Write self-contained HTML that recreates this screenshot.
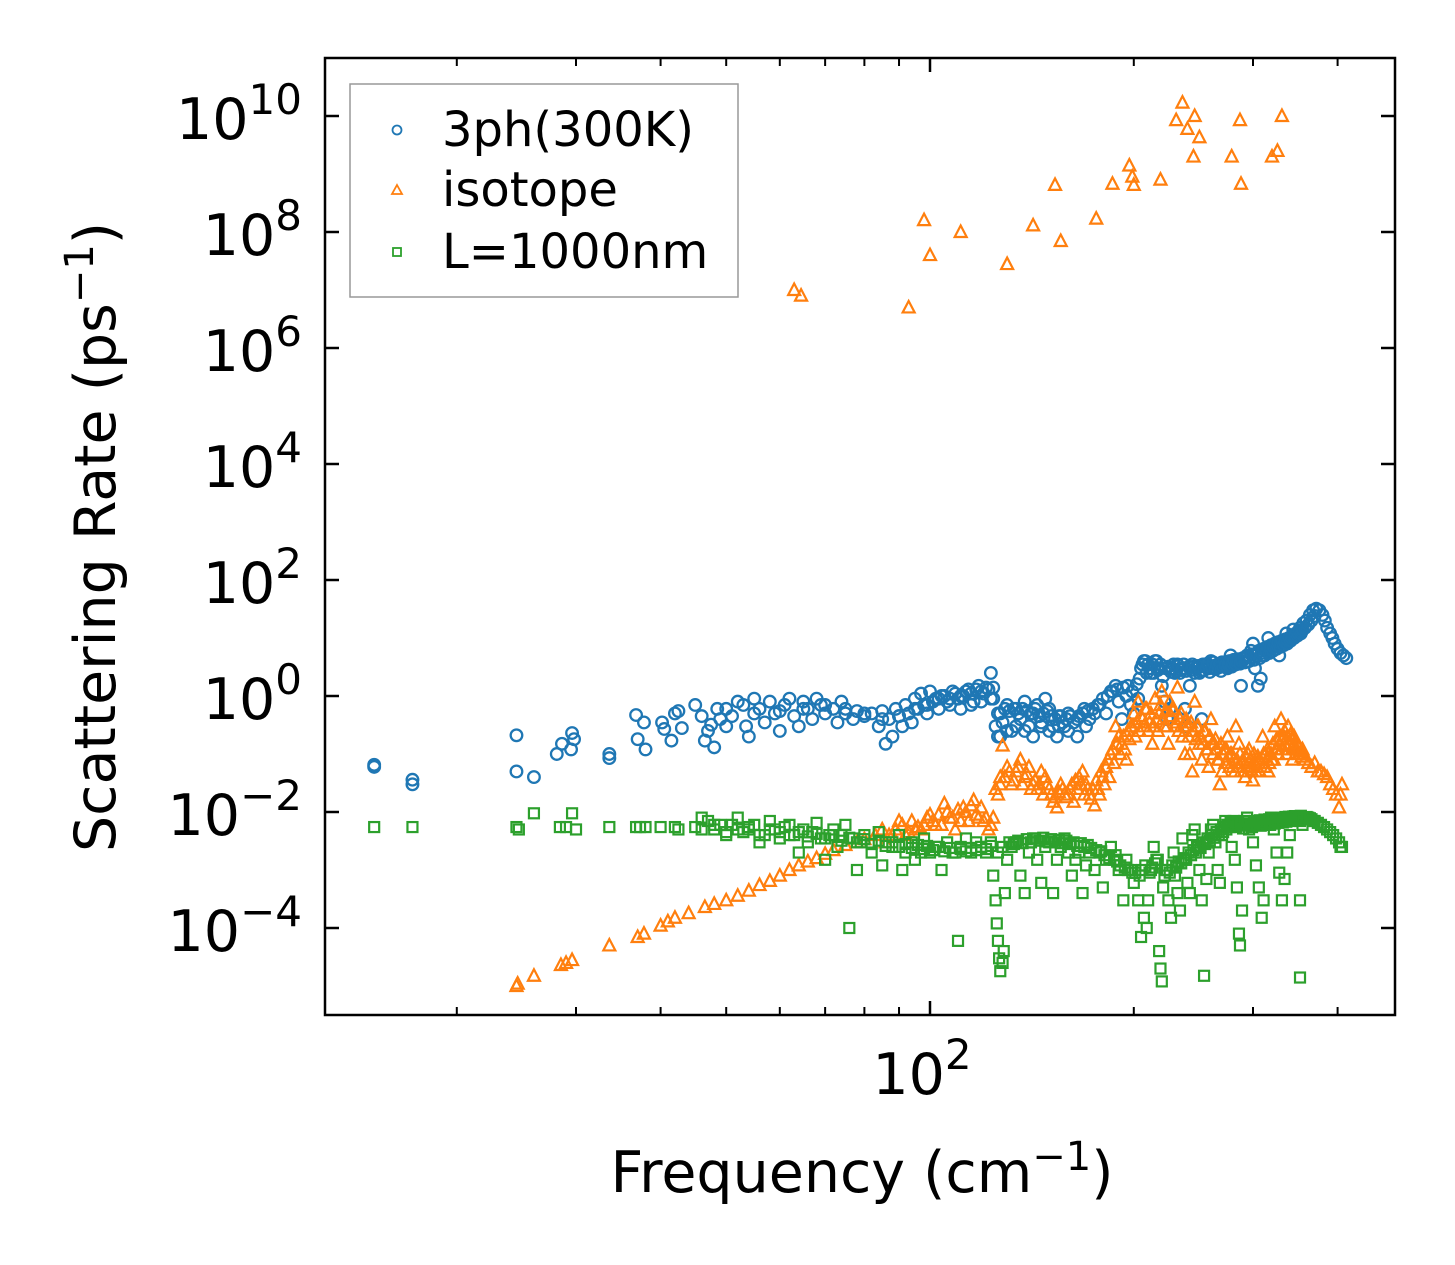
<!DOCTYPE html>
<html><head><meta charset="utf-8"><style>
html,body{margin:0;padding:0;background:#fff}
svg{display:block}
text{font-family:"DejaVu Sans","Liberation Sans",sans-serif;fill:#000}
</style></head><body>
<svg id="chart" width="1455" height="1265" viewBox="0 0 1455 1265" xmlns="http://www.w3.org/2000/svg">
<g id="marks"></g>
<g id="axes"></g>
<rect x="325" y="58" width="1070" height="957" fill="none" stroke="#000" stroke-width="2.5"/>
<text transform="translate(115,537) rotate(-90)" text-anchor="middle" font-size="57">Scattering Rate (ps<tspan font-size="40" dy="-22">−1</tspan><tspan dy="22">)</tspan></text>
<text x="862" y="1192" text-anchor="middle" font-size="57">Frequency (cm<tspan font-size="40" dy="-22">−1</tspan><tspan dy="22">)</tspan></text>
<g>
<rect x="350" y="84" width="388" height="213" fill="#fff" stroke="#999" stroke-width="1.5"/>
<circle cx="397" cy="130" r="4.5" fill="none" stroke="#1f77b4" stroke-width="1.8"/>
<text x="442" y="146" font-size="48">3ph(300K)</text>
<polygon points="397,185 402,194 392,194" fill="none" stroke="#ff7f0e" stroke-width="1.8"/>
<text x="442" y="206" font-size="48">isotope</text>
<rect x="393" y="248" width="8" height="8" fill="none" stroke="#2ca02c" stroke-width="1.8"/>
<text x="442" y="268" font-size="48">L=1000nm</text>
</g>
</svg>
<script>
const threephFreq=[15.1,15.1,17.2,17.2,24.5,24.5,26,28.1,28.6,29.6,29.8,29.5,33.6,33.6,36.8,37,37.8,38,40.2,40.5,42,42.5,41.5,43,45,46,46.5,47,47.5,48,48.5,49,50,51,52,53,53.5,54,55,56,57,58,59,60,61,62,63,64,65,66,67,68,69,70,72,73,74,75,77,78,80,82,84,85,86,87,88,89,90,91,92,93,94,95,96,97,98,100,102,104,106,108,110,112,114,116,118,120,122,123,124,124,125,126,127,128,130,132,134,136,138,140,142,144,146,148,150,152,154,156,158,160,163,166,169,172,175,178,180,182,185,188,190,192,195,198,200,203,205,208,210,212,215,218,220,222,224,226,228,230,232,235,238,240,242,245,248,250,252,255,258,260,263,266,270,274,278,282,286,288,290,294,298,300,302,305,308,310,313,316,320,324,328,332,336,340,344,348,352,356,360,364,368,372,376,380,383,386,390,393,396,400,404,408,412,
50,55,60,65,70,75,80,85,90,95,99,101,103,105,107,109,111,113,115,117,119,121,99,103,107,111,115,119,123,126,129,131,133,135,137,139,141,143,145,147,149,151,153,155,157,159,161,165,168,171,174,177,127,130,134,138,142,146,150,155,160,165,170,183,186,189,193,196,199,202,204,206,207,209,211,213,214,216,217,219,221,223,225,227,229,231,233,234,236,237,239,241,243,244,246,247,249,251,253,254,256,257,259,261,262,264,265,267,268,269,271,272,273,275,276,277,279,280,281,283,284,285,287,289,291,292,293,295,296,297,299,301,303,304,306,307,309,311,312,314,315,317,318,319,321,322,323,325,326,327,329,330,331,333,334,335,337,338,339,341,342,343,345,346,347,349,350,351,353,354,355,358,362,366,370];
const threephRate=[.065,.06,.036,.03,.21,.05,.04,.1,.15,.23,.18,.12,.1,.085,.47,.18,.35,.12,.35,.27,.5,.55,.17,.28,.7,.45,.17,.25,.32,.13,.6,.4,.3,.45,.8,.7,.3,.2,.9,.6,.35,.8,.5,.25,.7,.9,.45,.3,.8,.6,.4,.9,.7,.5,.6,.35,.8,.5,.4,.55,.45,.5,.3,.55,.15,.4,.2,.6,.45,.3,.7,.5,.35,.9,.6,1.1,.7,1.2,.9,1.0,.8,1.2,.9,1.0,1.3,.8,1.5,1.1,1.3,2.5,1.4,.9,.3,.2,.5,.35,.7,.25,.6,.4,.8,.3,.5,.7,.35,.9,.6,.3,.2,.45,.3,.5,.35,.45,.6,.4,.5,.7,.9,.5,1.2,1.5,.8,.4,1.0,.7,.5,.9,3,4,3.5,2.5,4,3,1.5,.8,.4,.6,3,2.5,3.5,2.8,.6,.3,1.5,3.2,3,2.5,.4,3.5,3,4,3,3.5,3.8,3.2,5,3.5,4,1.5,4.5,5,6,8,3,1.5,2,5,6,10,7,8,5,9,12,10,14,12,15,18,20,25,30,32,30,25,20,15,12,10,8,6.5,5.5,5,4.5,
.6,.5,.55,.6,.7,.6,.5,.4,.45,.6,.7,.8,.9,1.0,.9,1.1,1.0,1.2,1.1,1.3,1.2,1.4,.5,.6,.7,.6,.7,.8,.9,.5,.6,.55,.6,.5,.6,.55,.5,.6,.45,.5,.55,.45,.4,.45,.35,.4,.45,.4,.5,.55,.6,.7,.2,.25,.3,.25,.2,.3,.25,.3,.25,.2,.3,1.0,1.2,1.3,1.4,1.5,1.2,1.6,2,3.5,4,2.5,3,3.5,2.5,4,2.8,3.5,2.2,3,3.2,2.6,3.5,2.7,3.3,2.5,3,3.5,2.7,3.2,2.8,3.5,2.5,3,3.3,2.7,3.5,2.8,3.1,3.6,2.6,3.2,3.8,2.9,3.4,3.1,3.6,2.7,3.2,3.8,3.4,3,3.5,4,3.2,3.7,4.2,3.5,3.9,4.3,3.6,4,4.4,3.8,4.5,5,4,4.6,5.2,4.2,5,5.5,6,4.5,5.5,6.5,5,6,7,5.5,6.5,7.5,6,7,8,6.5,7.5,8.5,7,8,9,7.5,8.5,9.5,8,9,10,9,10,11,10,11,12,11,12,13,12,13,14,15,17,20,24];
const isoFreq=[24.5,24.6,26,28.5,29,29.6,33.6,37,37.8,40,41,42,44,46.5,48,50,52,54,56,58,60,62,64,66,68,70,72,75,78,80,83,85,86,88,90,92,95,97,100,102,105,107,109,112,114,116,118,120,122,124,125,127,128,130,132,134,136,138,140,142,144,146,148,150,152,154,156,158,160,163,166,168,170,172,175,178,180,183,186,188,190,192,195,198,200,203,206,208,210,213,215,218,220,222,225,228,230,232,234,236,238,240,242,244,246,248,250,252,254,256,258,260,263,266,268,270,272,275,278,280,283,286,288,290,292,295,298,300,303,306,310,313,316,320,323,326,330,333,336,340,343,346,350,354,358,362,366,370,374,378,382,386,390,394,398,402,404,406,
63,64.5,93,98,100,111,130,142,153,156,176,186,197,199,219,200,231,236,240,246,250,245,279,287,288,320,326,331,
87,89,91,93,94,96,98,99,101,103,104,106,108,110,111,113,115,117,119,121,123,126,127,129,131,133,135,137,139,141,143,145,147,149,151,153,155,157,159,161,162,164,165,167,169,171,173,174,176,177,179,181,182,184,185,187,189,191,193,194,196,197,199,201,202,204,205,207,209,211,212,214,216,217,219,221,223,224,226,227,229,231,233,235,237,239,241,243,245,247,249,251,253,255,257,259,261,262,264,265,267,269,271,273,274,276,277,279,281,282,284,285,287,289,291,293,294,296,297,299,301,302,304,305,307,309,311,312,314,315,317,319,321,322,324,325,327,328,329,331,332,334,335,337,338,339,341,342,344,345,347,348,349,351,353,355,357];
const isoRate=[1e-5,1.1e-5,1.5e-5,2.3e-5,2.5e-5,2.8e-5,5e-5,7e-5,8e-5,1.1e-4,1.3e-4,1.5e-4,1.8e-4,2.3e-4,2.6e-4,3e-4,3.6e-4,4.4e-4,5.5e-4,6.5e-4,8e-4,1e-3,1.2e-3,1.4e-3,1.6e-3,1.9e-3,2.2e-3,2.7e-3,3e-3,3.4e-3,4e-3,5e-3,3e-3,4e-3,7e-3,4e-3,5e-3,5e-3,9e-3,6e-3,1.4e-2,8e-3,5e-3,1.2e-2,7e-3,1.6e-2,8e-3,7e-3,5e-3,8e-3,2.5e-2,4e-2,.14,6e-2,3e-2,5e-2,8e-2,4e-2,6e-2,3e-2,2.5e-2,5e-2,4e-2,2.5e-2,1.5e-2,1.2e-2,3e-2,2e-2,2e-2,1.5e-2,4e-2,5e-2,3e-2,2e-2,1.3e-2,2e-2,4e-2,8e-2,.12,.3,.2,.15,.08,.3,.5,.8,.4,.6,.25,.15,.9,.5,1.2,.3,.15,.6,.3,1.4,.4,.2,.1,.3,.1,.05,.8,.3,.15,.08,.25,.12,.06,.4,.15,.08,.03,.05,.12,.2,.1,.06,.3,.15,.05,.08,.04,.1,.06,.035,.05,.08,.2,.1,.05,.08,.3,.12,.4,.2,.1,.15,.08,.12,.1,.09,.08,.07,.06,.07,.05,.05,.045,.04,.03,.025,.02,.012,.02,.03,
1e7,8e6,5e6,1.6e8,4e7,1e8,2.8e7,1.3e8,6.5e8,7e7,1.7e8,6.8e8,1.4e9,9e8,8e8,6.5e8,8.5e9,1.7e10,6e9,1e10,4.3e9,2e9,2e9,8.5e9,6.8e8,2e9,2.5e9,1e10,
4e-3,5e-3,6e-3,4.5e-3,7e-3,5.5e-3,6e-3,8e-3,7e-3,9e-3,6e-3,1e-2,8e-3,1.1e-2,7e-3,1e-2,1.3e-2,9e-3,1.2e-2,8e-3,6e-3,2e-2,3e-2,4e-2,5e-2,3.5e-2,6e-2,3e-2,4.5e-2,2.5e-2,3.5e-2,3e-2,2e-2,3e-2,2e-2,1.8e-2,2.2e-2,2.5e-2,1.8e-2,2.5e-2,3e-2,3.5e-2,2.5e-2,3e-2,2e-2,2.5e-2,1.7e-2,2.5e-2,3.5e-2,2.5e-2,5e-2,3e-2,6e-2,4e-2,1e-1,7e-2,.15,.1,.2,.12,.25,.18,.3,.2,.35,.25,.45,.3,.6,.35,.5,.3,.4,.25,.7,.4,.55,.3,.8,.45,.6,.35,.25,.5,.3,.4,.2,.35,.25,.18,.3,.2,.15,.25,.12,.2,.15,.1,.18,.12,.08,.15,.1,.07,.12,.09,.06,.1,.08,.05,.08,.06,.1,.07,.05,.09,.06,.12,.08,.05,.1,.07,.06,.09,.05,.07,.1,.06,.08,.12,.07,.1,.15,.08,.12,.18,.1,.15,.2,.12,.18,.25,.14,.2,.3,.15,.22,.18,.14,.2,.16,.12,.15,.13,.11,.12,.1,.1,.09];
const bndFreq=[15.1,17.2,24.5,24.7,26,28.4,29,29.6,30,33.6,36.8,37.3,38,40,42,42.5,45,46,47,48,49,50,51,52,53,54,55,56,57,58,59,60,61,62,63,64,65,66,67,68,69,70,71,72,73,74,75,76,77,78,79,80,82,84,85,86,88,90,91,92,94,95,97,98,100,102,104,106,108,110,111,113,115,117,119,121,123,124,125,125.5,126,126.5,127,128,128.5,129,130,132,134,136,138,140,142,144,146,148,150,152,154,156,158,160,162,164,166,168,170,172,175,178,180,182,185,188,190,193,195,198,200,203,205,207,209,210,212,214,216,218,219,220,221,223,225,227,229,230,232,234,236,238,240,242,244,246,248,250,252,254,256,258,260,262,264,266,268,270,273,276,279,282,284,286,287,289,291,294,297,300,303,306,309,311,313,316,319,322,325,328,331,334,337,340,343,346,349,352,352,352,355,358,362,366,370,374,378,382,386,390,394,398,402,404,406,
46,48,50,52,54,56,58,60,62,64,66,68,70,72,74,76,78,80,82,84,86,88,90,92,94,96,98,99,101,103,105,107,109,111,113,115,117,119,121,123,126,128,131,133,135,137,139,141,143,145,147,149,151,153,155,157,159,161,163,165,167,169,171,173,176,179,181,184,187,189,191,194,196,199,201,204,206,208,211,213,215,217,222,224,226,228,231,233,235,237,239,241,243,245,247,249,251,253,255,257,259,261,263,265,267,269,271,272,274,275,277,278,280,281,283,285,288,290,292,293,295,296,298,299,301,302,304,305,307,308,310,312,314,315,317,318,320,321,323,324,326,327,329,330,332,333,335,336,338,339,341,342,344,345,347,348,350,351,353,356,360,364,368];
const bndRate=[.0055,.0055,.0055,.005,.0095,.0055,.0055,.0095,.005,.0055,.0055,.0055,.0055,.0055,.0055,.005,.0055,.008,.007,.005,.006,.004,.006,.008,.0045,.005,.006,.003,.004,.007,.005,.0035,.0055,.006,.004,.002,.005,.003,.0045,.0065,.0035,.0015,.004,.005,.0025,.004,.006,1e-4,.0035,.001,.003,.004,.002,.0045,.0012,.003,.0025,.004,.001,.002,.003,.0015,.002,.0035,.002,.0025,.001,.003,.002,6e-5,.0025,.0035,.002,.003,.0025,.002,.003,.0008,.0003,1.2e-4,6e-5,3e-5,1.8e-5,2.5e-5,4e-5,.0004,.0015,.0025,.003,.0008,.0004,.002,.0035,.0015,.0006,.0025,.003,.0004,.0015,.0025,.0035,.002,.0008,.0015,.002,.0004,.0012,.002,.001,.002,.0005,.0015,.0025,.0018,.001,.0003,.0015,.001,.0006,.0003,7e-5,1.5e-4,1e-4,.0003,.001,.0025,.0015,4e-5,2e-5,1.2e-5,.0005,.001,.0003,1.5e-4,.002,.0008,.0004,2e-4,.0035,.0015,.0006,.0004,.004,.005,.0025,.001,.0003,1.5e-5,.0007,.002,.005,.006,.003,.001,.0006,.004,.007,.006,.0025,.0015,.0005,8e-5,5e-5,.0002,.007,.008,.006,.003,.0012,.0005,1.5e-4,.0003,.006,.007,.008,.005,.002,.0009,.0003,.0007,.002,.004,.008,.0085,.008,.007,1.4e-5,.0003,.006,.0075,.008,.0075,.007,.0065,.006,.0055,.005,.0045,.004,.0035,.003,.0025,.0025,
.005,.006,.0045,.005,.0055,.004,.005,.0045,.004,.0045,.0038,.0042,.0035,.004,.0032,.0036,.003,.0034,.0028,.0032,.0026,.003,.0025,.0028,.0024,.0027,.0023,.0026,.0022,.0025,.0021,.0024,.002,.0023,.0021,.0024,.0022,.0025,.0023,.0026,.002,.0025,.003,.0028,.0032,.0029,.0034,.003,.0035,.0032,.0036,.0031,.0034,.003,.0033,.0029,.0032,.0028,.003,.0026,.0029,.0025,.0027,.0024,.0022,.0021,.0018,.0016,.0015,.0014,.0012,.0011,.001,.0009,.0009,.0008,.001,.0012,.0009,.0011,.0013,.0015,.0008,.001,.0009,.0012,.0011,.0014,.0013,.0016,.0015,.002,.0018,.0022,.002,.0026,.0024,.003,.0028,.0035,.0032,.004,.0036,.0045,.004,.005,.0045,.0055,.005,.006,.0055,.0065,.006,.007,.0055,.0065,.006,.0052,.0062,.0058,.0068,.005,.006,.0055,.0065,.007,.006,.0068,.0072,.0058,.0064,.0074,.0062,.0068,.0075,.006,.0066,.0076,.0063,.007,.0078,.0065,.0072,.008,.0066,.0074,.0082,.0068,.0076,.0083,.007,.0078,.0084,.0072,.0079,.0085,.0074,.008,.0086,.0075,.0082,.0078,.007,.0065,.006,.0055];
const yTickExps=[10,8,6,4,2,0,-2,-4];
const xMinorTicks=[20,30,40,50,60,70,80,90,200,300,400];

const NS='http://www.w3.org/2000/svg';
const X0=930,XPD=677,Y0=696,YPD=58;
function xs(f){return X0+(Math.log10(f)-2)*XPD;}
function ys(v){return Y0-Math.log10(v)*YPD;}
const marks=document.getElementById('marks');
const axes=document.getElementById('axes');
function el(tag,attrs,parent){const e=document.createElementNS(NS,tag);for(const k in attrs)e.setAttribute(k,attrs[k]);parent.appendChild(e);return e;}

const gB=el('g',{},marks);


threephFreq.forEach((f,i)=>{const c=el('circle',{cx:xs(f),cy:ys(threephRate[i]),r:5.8,fill:'none',stroke:'#1f77b4','stroke-width':2.3},gB);

});
const gO=el('g',{},marks);


isoFreq.forEach((f,i)=>{const x=xs(f),y=ys(isoRate[i]);const p=el('polygon',{points:`${x},${y-6.5} ${x+6},${y+5} ${x-6},${y+5}`,fill:'none',stroke:'#ff7f0e','stroke-width':2.2},gO);

});
const gG=el('g',{},marks);


bndFreq.forEach((f,i)=>{const x=xs(f),y=ys(bndRate[i]);const r=el('rect',{x:x-5,y:y-5,width:10,height:10,fill:'none',stroke:'#2ca02c','stroke-width':2.2},gG);

});

yTickExps.forEach(e=>{const y=ys(Math.pow(10,e));
el('line',{x1:325,x2:339,y1:y,y2:y,stroke:'#000','stroke-width':2.5},axes);
el('line',{x1:1381,x2:1395,y1:y,y2:y,stroke:'#000','stroke-width':2.5},axes);
const t=el('text',{x:302,y:y+23,'text-anchor':'end','font-size':57},axes);


const s=String(e).replace('-','−');
t.innerHTML='10<tspan font-size="42" dy="-25">'+s+'</tspan>';
});
xMinorTicks.forEach(f=>{const x=xs(f);
el('line',{x1:x,x2:x,y1:1015,y2:1007,stroke:'#000','stroke-width':2},axes);
el('line',{x1:x,x2:x,y1:58,y2:66,stroke:'#000','stroke-width':2},axes);});
const xm=xs(100);
el('line',{x1:xm,x2:xm,y1:1015,y2:1001,stroke:'#000','stroke-width':2.5},axes);
el('line',{x1:xm,x2:xm,y1:58,y2:72,stroke:'#000','stroke-width':2.5},axes);
const xt=el('text',{x:xm-8,y:1094,'text-anchor':'middle','font-size':57},axes);


xt.innerHTML='10<tspan font-size="42" dy="-25">2</tspan>';
</script>
</body></html>
